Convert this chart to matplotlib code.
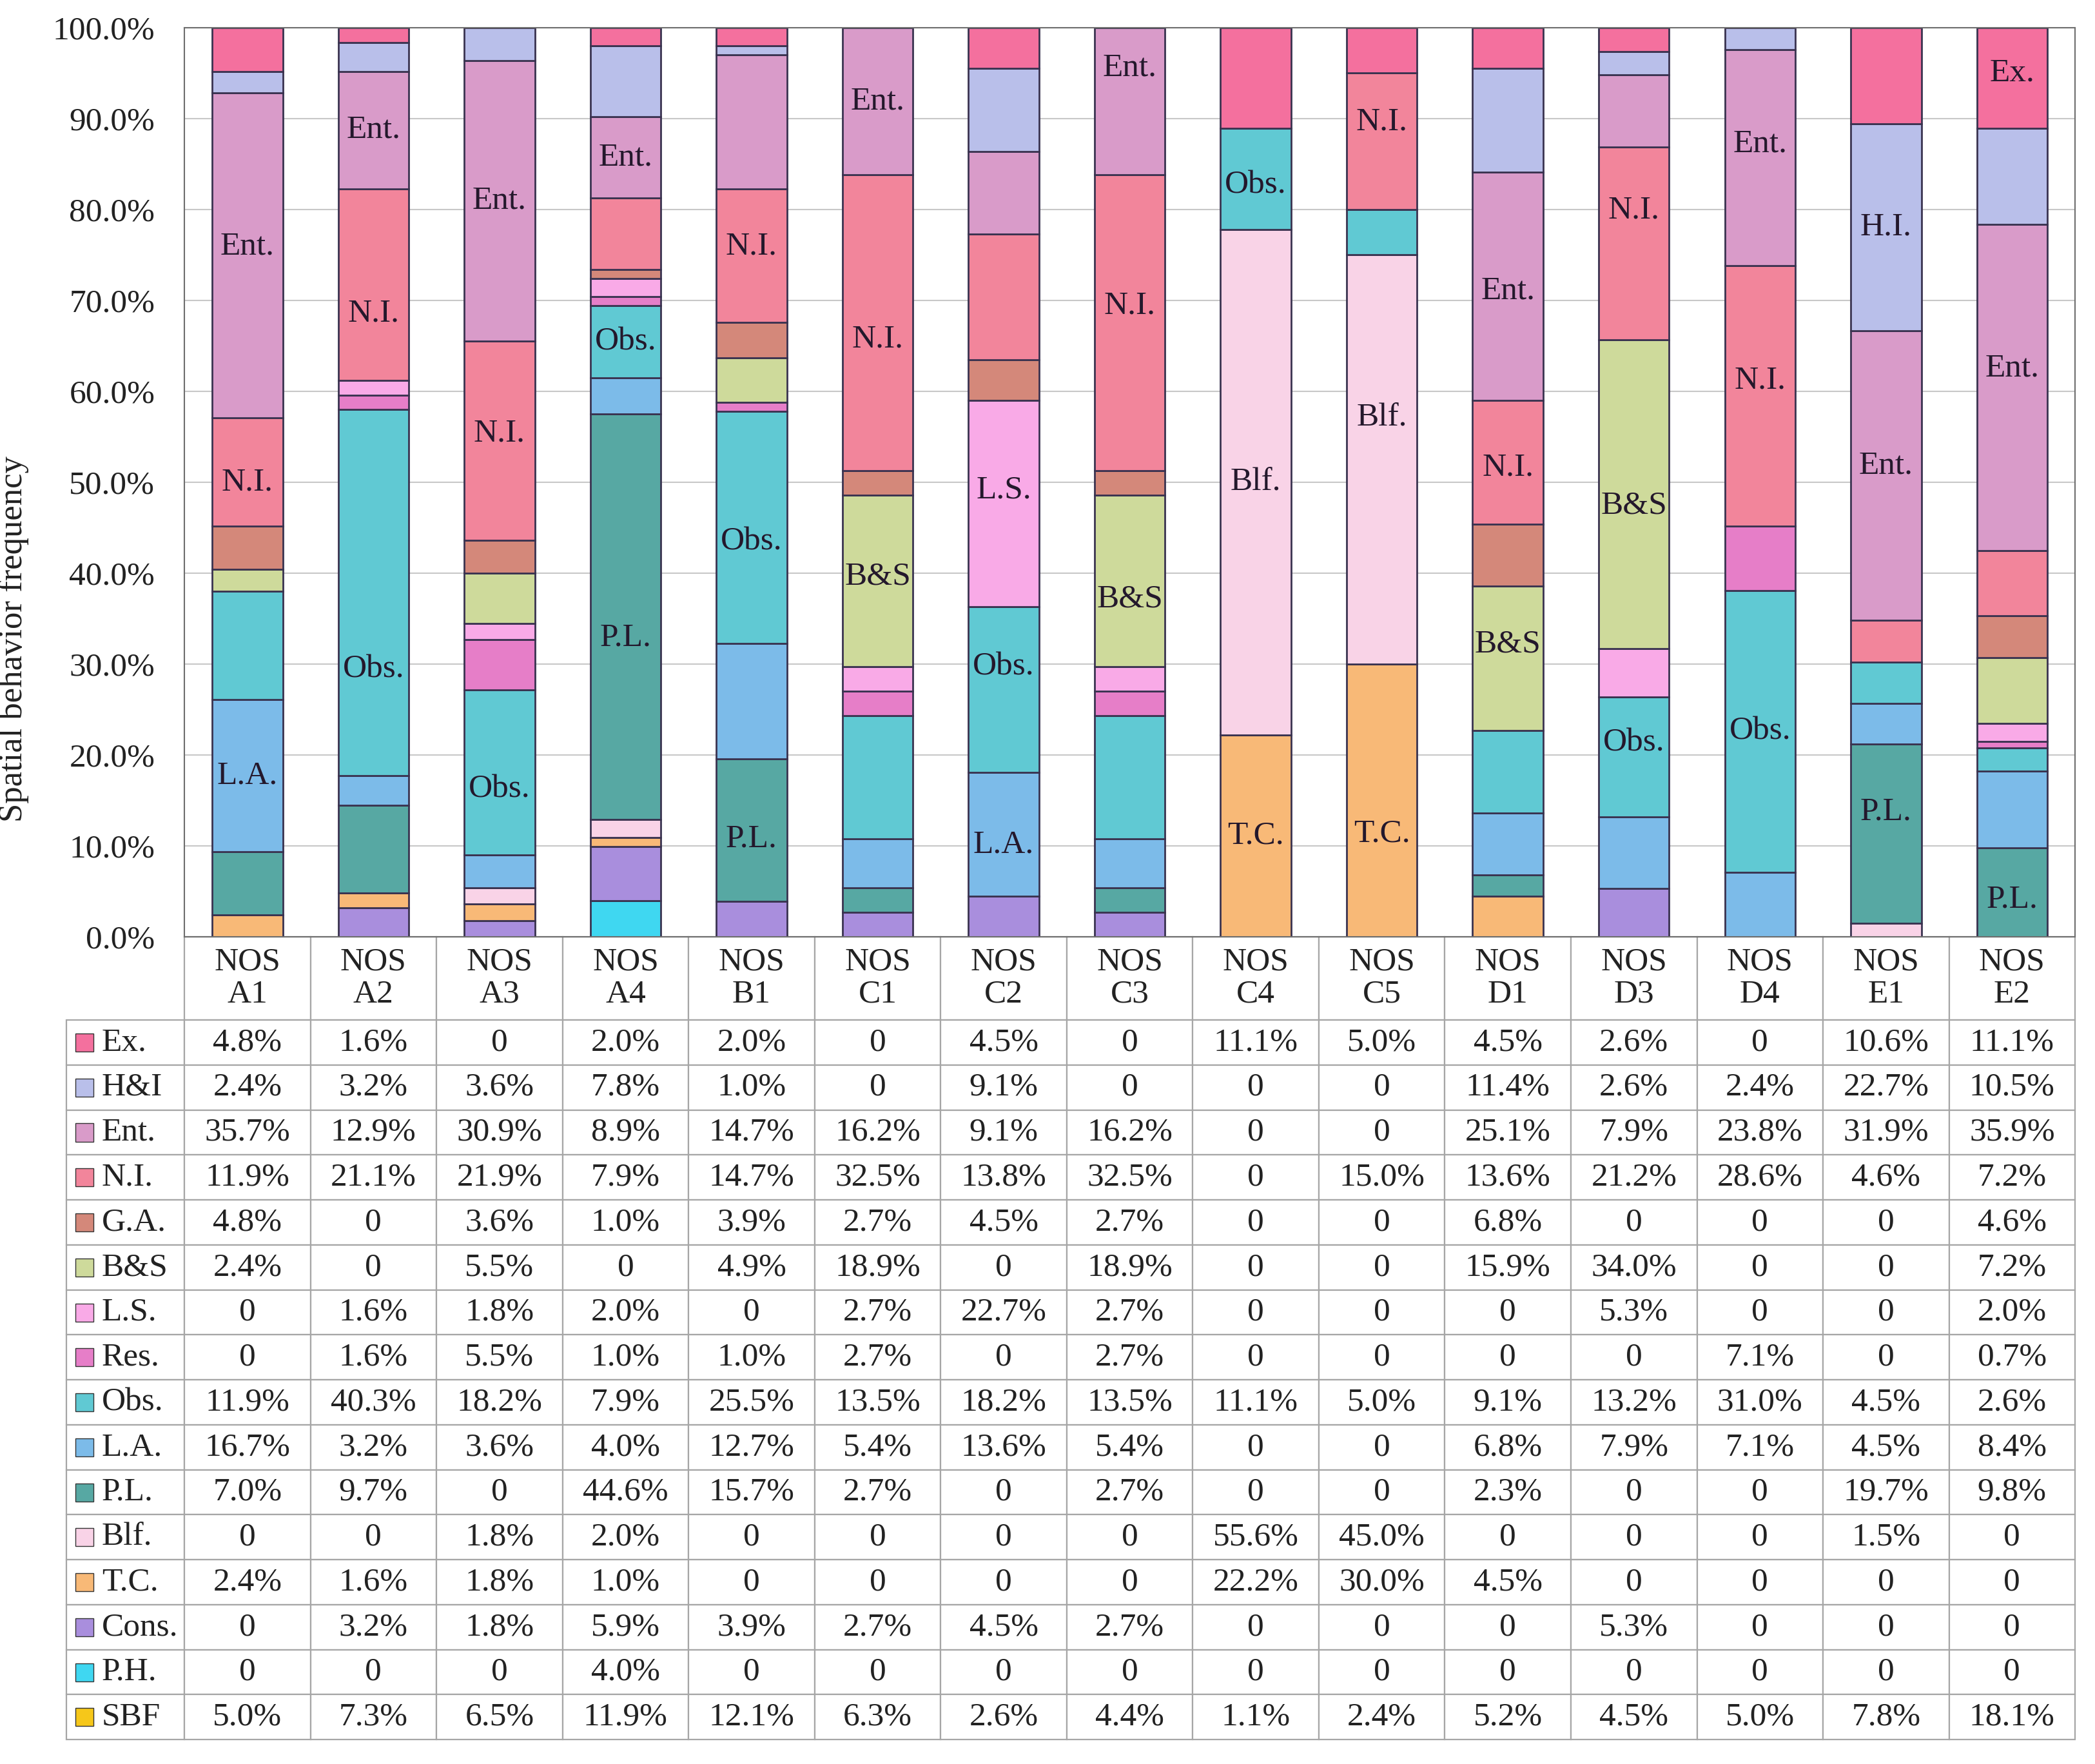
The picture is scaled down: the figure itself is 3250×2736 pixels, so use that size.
import matplotlib
matplotlib.use("Agg")
import matplotlib.pyplot as plt
from matplotlib.patches import Rectangle
from matplotlib.ticker import FuncFormatter
import numpy as np

plt.rcParams["font.family"] = ["Liberation Serif", "DejaVu Serif"]

# ---------- data (percent per site) ----------------------------------------
sites = ["A1", "A2", "A3", "A4", "B1", "C1", "C2", "C3",
         "C4", "C5", "D1", "D3", "D4", "E1", "E2"]

ex   = [4.8, 1.6, 0, 2.0, 2.0, 0, 4.5, 0, 11.1, 5.0, 4.5, 2.6, 0, 10.6, 11.1]
hi   = [2.4, 3.2, 3.6, 7.8, 1.0, 0, 9.1, 0, 0, 0, 11.4, 2.6, 2.4, 22.7, 10.5]
ent  = [35.7, 12.9, 30.9, 8.9, 14.7, 16.2, 9.1, 16.2, 0, 0, 25.1, 7.9, 23.8, 31.9, 35.9]
ni   = [11.9, 21.1, 21.9, 7.9, 14.7, 32.5, 13.8, 32.5, 0, 15.0, 13.6, 21.2, 28.6, 4.6, 7.2]
ga   = [4.8, 0, 3.6, 1.0, 3.9, 2.7, 4.5, 2.7, 0, 0, 6.8, 0, 0, 0, 4.6]
bs   = [2.4, 0, 5.5, 0, 4.9, 18.9, 0, 18.9, 0, 0, 15.9, 34.0, 0, 0, 7.2]
ls   = [0, 1.6, 1.8, 2.0, 0, 2.7, 22.7, 2.7, 0, 0, 0, 5.3, 0, 0, 2.0]
res  = [0, 1.6, 5.5, 1.0, 1.0, 2.7, 0, 2.7, 0, 0, 0, 0, 7.1, 0, 0.7]
obs  = [11.9, 40.3, 18.2, 7.9, 25.5, 13.5, 18.2, 13.5, 11.1, 5.0, 9.1, 13.2, 31.0, 4.5, 2.6]
la   = [16.7, 3.2, 3.6, 4.0, 12.7, 5.4, 13.6, 5.4, 0, 0, 6.8, 7.9, 7.1, 4.5, 8.4]
pl   = [7.0, 9.7, 0, 44.6, 15.7, 2.7, 0, 2.7, 0, 0, 2.3, 0, 0, 19.7, 9.8]
blf  = [0, 0, 1.8, 2.0, 0, 0, 0, 0, 55.6, 45.0, 0, 0, 0, 1.5, 0]
tc   = [2.4, 1.6, 1.8, 1.0, 0, 0, 0, 0, 22.2, 30.0, 4.5, 0, 0, 0, 0]
cons = [0, 3.2, 1.8, 5.9, 3.9, 2.7, 4.5, 2.7, 0, 0, 0, 5.3, 0, 0, 0]
ph   = [0, 0, 0, 4.0, 0, 0, 0, 0, 0, 0, 0, 0, 0, 0, 0]
sbf  = [5.0, 7.3, 6.5, 11.9, 12.1, 6.3, 2.6, 4.4, 1.1, 2.4, 5.2, 4.5, 5.0, 7.8, 18.1]

# table order (top -> bottom); bars stack in reverse (P.H. at the bottom)
categories = ["Ex.", "H&I", "Ent.", "N.I.", "G.A.", "B&S", "L.S.", "Res.",
              "Obs.", "L.A.", "P.L.", "Blf.", "T.C.", "Cons.", "P.H.", "SBF"]
series = [ex, hi, ent, ni, ga, bs, ls, res, obs, la, pl, blf, tc, cons, ph, sbf]
stacked = categories[:-1]          # SBF is listed in the table only

colors = {
    "Ex.": "#F4709E", "H&I": "#B9BFEA", "Ent.": "#D99BC9", "N.I.": "#F2859B",
    "G.A.": "#D4887A", "B&S": "#CEDA9B", "L.S.": "#F9AAE7", "Res.": "#E67EC8",
    "Obs.": "#60C9D3", "L.A.": "#7CBBE9", "P.L.": "#57A8A3", "Blf.": "#F9D3E7",
    "T.C.": "#F8B977", "Cons.": "#A98EDD", "P.H.": "#3FD7F1", "SBF": "#F6C71A",
}

# in-bar labels: (site, category, vertical nudge in %)
bar_labels = [
    ("A1", "Ent.", 1.0), ("A1", "N.I.", -1.2), ("A1", "L.A.", 0),
    ("A2", "Ent.", 0), ("A2", "N.I.", -3.2), ("A2", "Obs.", -8.4),
    ("A3", "Ent.", 0), ("A3", "N.I.", 0.8), ("A3", "Obs.", -1.9),
    ("A4", "Ent.", 0), ("A4", "Obs.", 0), ("A4", "P.L.", -2.3),
    ("B1", "N.I.", 1.0), ("B1", "Obs.", -1.6), ("B1", "P.L.", -1.0),
    ("C1", "Ent.", 0), ("C1", "N.I.", -1.8), ("C1", "B&S", 0.5),
    ("C2", "L.S.", 1.5), ("C2", "Obs.", 2.5), ("C2", "L.A.", -1.2),
    ("C3", "Ent.", 3.7), ("C3", "N.I.", 1.9), ("C3", "B&S", -2.0),
    ("C4", "Obs.", -0.7), ("C4", "Blf.", 0), ("C4", "T.C.", 0),
    ("C5", "N.I.", 2.1), ("C5", "Blf.", 4.6), ("C5", "T.C.", -3.7),
    ("D1", "Ent.", -0.5), ("D1", "N.I.", -0.6), ("D1", "B&S", 1.5),
    ("D3", "N.I.", 3.6), ("D3", "B&S", -1.3), ("D3", "Obs.", 1.5),
    ("D4", "Ent.", 1.5), ("D4", "N.I.", 1.7), ("D4", "Obs.", 0),
    ("E1", "H&I", 0), ("E1", "Ent.", 1.1), ("E1", "P.L.", 2.4),
    ("E2", "Ex.", 0.6), ("E2", "Ent.", 2.1), ("E2", "P.L.", -0.8),
]
label_text = {"H&I": "H.I."}

# ---------- figure ----------------------------------------------------------
FS = 37
TXT = "#222222"

fig = plt.figure(figsize=(32.5, 27.36), dpi=100)
ax = fig.add_axes([0.0880, 0.4689, 0.9025, 0.5154])

x = np.arange(len(sites))
data = dict(zip(categories, [np.array(s, dtype=float) for s in series]))

bottom = np.zeros(len(sites))
bottoms = {}
for cat in reversed(stacked):
    vals = data[cat]
    ax.bar(x, vals, width=0.56, bottom=bottom, color=colors[cat],
           edgecolor="#3a3350", linewidth=2.0, zorder=2)
    bottoms[cat] = bottom.copy()
    bottom = bottom + vals

for site, cat, dy in bar_labels:
    i = sites.index(site)
    yc = bottoms[cat][i] + data[cat][i] / 2 + dy
    ax.text(x[i], yc, label_text.get(cat, cat), ha="center", va="center",
            fontsize=FS, color="#24182c", zorder=3)

ax.set_xlim(-0.5, len(sites) - 0.5)
ax.set_ylim(0, 100)
ax.set_yticks(np.arange(0, 101, 10))
ax.yaxis.set_major_formatter(FuncFormatter(lambda v, _: f"{v:.1f}%"))
ax.tick_params(axis="y", length=0, pad=33, labelsize=FS, labelcolor=TXT)
ax.set_xticks([])
ax.grid(axis="y", color="#c8c8c8", linewidth=1.5)
ax.set_axisbelow(True)
for sp in ax.spines.values():
    sp.set_color("#6e6e6e")
    sp.set_linewidth(1.5)

ax.set_ylabel("Spatial behavior frequency", fontsize=FS + 1, color=TXT)
ax.yaxis.set_label_coords(-0.0822, 0.328)

# ---------- data table ------------------------------------------------------
def fmt(v):
    return "0" if v == 0 else f"{v:.1f}%"

cell_text = [[c] + [fmt(v) for v in data[c]] for c in categories]
col_labels = [""] + [f"NOS\n{s}" for s in sites]

lab_w = 183 / 2933
tbl = ax.table(cellText=cell_text, colLabels=col_labels, cellLoc="center",
               colWidths=[183] + [195.5] * len(sites),
               bbox=[-lab_w, -0.883, 1.0 + lab_w, 0.883])
tbl.auto_set_font_size(False)
tbl.set_fontsize(FS)

for (r, c), cell in tbl.get_celld().items():
    cell.set_edgecolor("#a6a6a6")
    cell.set_linewidth(1.6)
    cell.get_text().set_color(TXT)
    cell.set_height(129 if r == 0 else 69.75)
    if r == 0:
        cell.get_text().set_linespacing(1.1)
    if c == 0:
        cell.PAD = 0.3
        cell.get_text().set_horizontalalignment("left")
        cell._loc = "left"
tbl[0, 0].visible_edges = "open"
tbl[0, 0].set_facecolor("none")

fig.canvas.draw()

# legend swatches inside the row-label cells
sw_w = 28 / 2933
sw_h = 28 / 1410
for r, cat in enumerate(categories, start=1):
    cell = tbl[r, 0]
    cy = cell.get_y() + cell.get_height() / 2
    ax.add_patch(Rectangle((cell.get_x() + 14 / 2933, cy - sw_h / 2), sw_w, sw_h,
                           transform=ax.transAxes, facecolor=colors[cat],
                           edgecolor="#333333", linewidth=1.0, clip_on=False,
                           zorder=5))

fig.savefig("out.png", dpi=100)
